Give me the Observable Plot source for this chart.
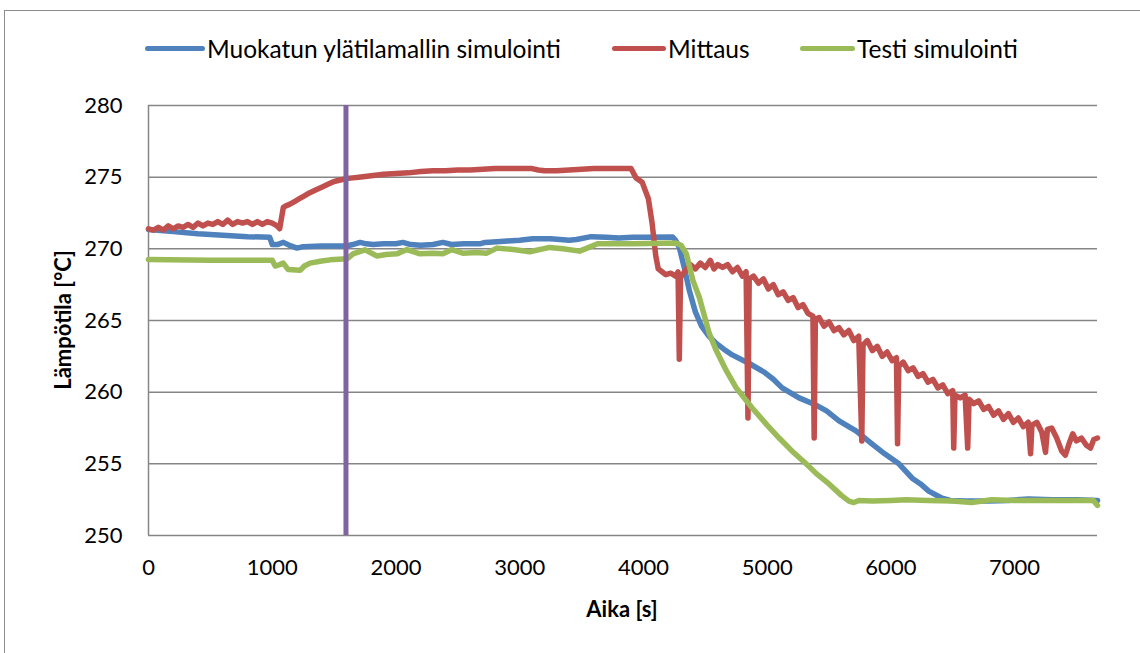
<!DOCTYPE html>
<html>
<head>
<meta charset="utf-8">
<script src="https://cdn.jsdelivr.net/npm/d3@7"></script>
<script src="https://cdn.jsdelivr.net/npm/@observablehq/plot@0.6"></script>
<style>
  html, body { margin: 0; padding: 0; background: #fff; }
  #wrap { position: relative; width: 1140px; height: 653px; overflow: hidden; font-family: Lato, "Open Sans", sans-serif; }
  #frame { position: absolute; left: 4px; top: 10px; width: 1200px; height: 700px; border: 1.5px solid #8c8c8c; box-sizing: border-box; }
  .leg { position: absolute; top: 33px; height: 30px; display: flex; align-items: center; font-size: 24.5px; color: #000; white-space: nowrap; }
  .sw { display: inline-block; height: 5px; border-radius: 3px; margin-right: 2px; }
  .title { position: absolute; font-weight: bold; font-size: 22px; color: #000; white-space: nowrap; }
  svg { position: absolute; left: 0; top: 0; }
</style>
</head>
<body>
<div id="wrap">
  <div id="frame"></div>
</div>
<script>
// ---- Data ----
const seriesNames = ["Muokatun ylätilamallin simulointi", "Mittaus", "Testi simulointi"];
const seriesColors = ["#4F81BD", "#C0504D", "#9BBB59"];
const xTicks = [0, 1000, 2000, 3000, 4000, 5000, 6000, 7000];
const yTicks = [250, 255, 260, 265, 270, 275, 280];
const markerTime = 1596;

// Muokatun ylätilamallin simulointi
const blueT = [0,200,400,600,800,980,1000,1040,1090,1150,1200,1250,1400,1600,1650,1710,1760,1815,1900,2000,2056,2120,2200,2300,2379,2450,2550,2677,2720,2815,2900,3000,3105,3250,3400,3459,3578,3700,3800,3915,4000,4237,4260,4290,4330,4371,4420,4470,4530,4589,4650,4718,4855,4976,5050,5121,5258,5395,5480,5581,5718,5847,5950,6065,6172,6240,6306,6414,6480,6600,6790,6950,7113,7300,7500,7670];
const blueV = [271.35,271.2,271.05,270.95,270.85,270.8,270.3,270.3,270.45,270.2,270.05,270.15,270.2,270.2,270.3,270.45,270.35,270.3,270.35,270.35,270.45,270.3,270.25,270.3,270.45,270.3,270.35,270.35,270.45,270.5,270.55,270.6,270.7,270.7,270.6,270.65,270.85,270.8,270.75,270.8,270.8,270.82,270.6,270.1,268.7,267.1,265.6,264.6,263.9,263.4,263.0,262.6,262.0,261.4,260.9,260.3,259.6,259.1,258.7,258.0,257.3,256.4,255.7,255.0,254.0,253.6,253.1,252.6,252.45,252.4,252.4,252.45,252.55,252.5,252.5,252.45];

// Mittaus
const redT = [0,40,80,120,160,200,240,280,320,360,400,440,480,520,560,600,640,680,720,760,800,840,880,920,960,1000,1040,1060,1090,1110,1140,1180,1220,1260,1300,1350,1400,1450,1500,1550,1600,1650,1700,1800,1900,2000,2100,2200,2300,2400,2500,2600,2700,2800,2900,3000,3100,3150,3200,3300,3400,3500,3600,3700,3800,3900,3940,3990,4040,4070,4100,4120,4150,4180,4220,4260,4280,4290,4300,4340,4380,4420,4460,4500,4540,4570,4600,4640,4680,4720,4760,4800,4830,4845,4855,4890,4930,4970,5010,5050,5090,5130,5170,5210,5250,5290,5330,5370,5380,5390,5420,5460,5500,5540,5580,5620,5660,5700,5740,5765,5775,5810,5850,5890,5930,5970,6010,6045,6054,6064,6100,6140,6180,6220,6260,6300,6340,6380,6420,6460,6500,6508,6518,6560,6600,6621,6632,6670,6710,6750,6790,6830,6870,6910,6950,6990,7030,7070,7110,7129,7140,7180,7220,7250,7265,7300,7340,7380,7410,7440,7470,7500,7540,7580,7613,7640,7670];
const redV = [271.4,271.3,271.5,271.3,271.6,271.4,271.6,271.5,271.7,271.5,271.8,271.6,271.8,271.7,271.9,271.7,272.0,271.7,271.9,271.8,271.9,271.7,271.9,271.7,271.9,271.8,271.6,271.4,272.9,273.0,273.1,273.3,273.5,273.7,273.9,274.1,274.3,274.5,274.7,274.8,274.9,274.95,275.0,275.1,275.2,275.25,275.3,275.4,275.45,275.45,275.5,275.5,275.55,275.6,275.6,275.6,275.6,275.5,275.45,275.45,275.5,275.55,275.6,275.6,275.6,275.6,274.95,274.65,273.5,271.8,269.5,268.6,268.4,268.2,268.3,268.1,268.4,262.3,268.0,268.5,268.9,268.6,269.0,268.7,269.2,268.6,268.9,268.7,268.9,268.4,268.7,268.1,268.4,258.2,267.9,268.1,267.6,267.9,267.2,267.5,266.8,267.0,266.4,266.6,265.9,266.1,265.5,265.3,256.8,265.1,265.2,264.6,264.9,264.3,264.5,264.0,264.3,263.6,263.9,256.6,263.3,263.6,262.9,263.2,262.5,262.8,262.2,262.4,256.4,261.8,262.1,261.5,261.7,261.1,261.3,260.7,260.9,260.3,260.5,259.9,260.1,256.1,259.8,259.6,259.8,256.1,259.5,259.2,259.4,258.8,259.0,258.4,258.7,258.1,258.5,257.9,258.2,257.6,257.9,255.7,257.7,257.9,257.2,255.8,257.4,257.5,256.8,255.9,255.6,256.4,257.1,256.6,256.8,256.3,256.1,256.7,256.8];

// Testi simulointi
const greenT = [0,500,1000,1024,1060,1089,1129,1226,1260,1306,1400,1468,1605,1653,1750,1847,1920,2008,2089,2194,2300,2379,2452,2540,2650,2734,2815,2950,3081,3242,3350,3484,3560,3629,3911,4266,4306,4347,4400,4452,4532,4589,4670,4750,4879,5000,5097,5200,5315,5400,5500,5600,5661,5700,5742,5850,6000,6121,6300,6500,6653,6815,7000,7300,7637,7670];
const greenV = [269.25,269.2,269.2,268.8,268.9,269.0,268.55,268.5,268.8,269.0,269.15,269.23,269.3,269.65,269.93,269.5,269.6,269.65,269.95,269.65,269.7,269.65,269.95,269.7,269.75,269.7,270.05,269.95,269.8,270.1,270.0,269.84,270.1,270.35,270.35,270.4,270.23,269.65,267.8,266.6,264.1,262.9,261.5,260.3,258.9,257.7,256.8,255.9,255.0,254.3,253.6,252.8,252.4,252.3,252.44,252.4,252.45,252.5,252.45,252.4,252.3,252.5,252.45,252.45,252.44,252.1];

const toRows = (ts, vs, s) => ts.map((t, i) => ({t, v: vs[i], s}));
const rows = [
  ...toRows(blueT, blueV, seriesNames[0]),
  ...toRows(redT, redV, seriesNames[1]),
  ...toRows(greenT, greenV, seriesNames[2])
];

const chart = Plot.plot({
  width: 1140,
  height: 653,
  marginLeft: 148,
  marginRight: 43,
  marginTop: 105,
  marginBottom: 118,
  style: {fontFamily: "Lato, 'Open Sans', sans-serif", fontSize: "22px", color: "#000", background: "transparent", overflow: "visible"},
  x: {domain: [0, 7670], ticks: xTicks, tickFormat: d3.format("d"), tickSize: 0, tickPadding: 24, label: null},
  y: {domain: [250, 280], ticks: yTicks, tickSize: 0, tickPadding: 26, label: null},
  color: {domain: seriesNames, range: seriesColors},
  marks: [
    Plot.gridY(yTicks.filter(d => d > 250), {stroke: "#868686", strokeOpacity: 1, strokeWidth: 1.5}),
    Plot.ruleY([250], {stroke: "#868686", strokeWidth: 1.5}),
    Plot.ruleX([0], {stroke: "#868686", strokeWidth: 1.5}),
    Plot.line(rows, {x: "t", y: "v", z: "s", stroke: "s", strokeWidth: 5.5, strokeLinejoin: "round", strokeLinecap: "round"}),
    Plot.ruleX([markerTime], {stroke: "#8064A2", strokeWidth: 5})
  ]
});
document.getElementById("wrap").appendChild(chart);

// Legend
const legPos = [145, 612, 800];
const swW = [60, 54, 55];
seriesNames.forEach((name, i) => {
  const d = document.createElement("div");
  d.className = "leg";
  d.style.left = legPos[i] + "px";
  d.innerHTML = `<span class="sw" style="width:${swW[i]}px;background:${seriesColors[i]}"></span><span>${name}</span>`;
  document.getElementById("wrap").appendChild(d);
});

// Axis titles
const xt = document.createElement("div");
xt.className = "title";
xt.textContent = "Aika [s]";
xt.style.left = "622px"; xt.style.top = "608px"; xt.style.transform = "translate(-50%, -50%)";
document.getElementById("wrap").appendChild(xt);
const yt = document.createElement("div");
yt.className = "title";
yt.textContent = "Lämpötila [°C]";
yt.style.left = "62px"; yt.style.top = "320px"; yt.style.transform = "translate(-50%, -50%) rotate(-90deg)";
document.getElementById("wrap").appendChild(yt);
</script>
</body>
</html>
